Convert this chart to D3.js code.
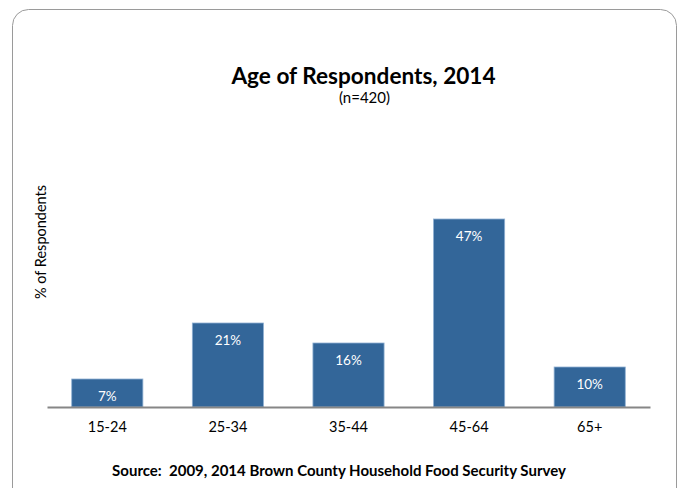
<!DOCTYPE html>
<html><head><meta charset="utf-8">
<script src="https://cdn.jsdelivr.net/npm/d3@7"></script>
<style>body{margin:0;background:#fff}svg{display:block}text{font-family:Lato,"Open Sans",sans-serif}</style>
</head><body><svg id="c" width="684" height="488"></svg>
<script>
const categories = ["15-24","25-34","35-44","45-64","65+"];
const values = [7,21,16,47,10];
const valueLabels = ["7%","21%","16%","47%","10%"];
const title = "Age of Respondents, 2014";
const subtitle = "(n=420)";
const yTitle = "% of Respondents";
const source = "Source:  2009, 2014 Brown County Household Food Security Survey";

const svg = d3.select("#c");
svg.append("rect").attr("x",12.5).attr("y",9.5).attr("width",664).attr("height",500)
  .attr("rx",16).attr("fill","#fff").attr("stroke","#9a9a9a").attr("stroke-width",1);

const x = d3.scaleBand().domain(categories).range([47,650]).paddingInner(0.41).paddingOuter(0.205);
const y = d3.scaleLinear().domain([0,50]).range([407,207]);

svg.selectAll("rect.bar").data(values).join("rect").attr("class","bar")
  .attr("x",(d,i)=>x(categories[i])).attr("y",d=>y(d))
  .attr("width",x.bandwidth()).attr("height",d=>y(0)-y(d))
  .attr("fill","#336699").attr("stroke","#8fb0d2").attr("stroke-width",0.8);

svg.selectAll("text.vl").data(values).join("text").attr("class","vl")
  .attr("x",(d,i)=>x(categories[i])+x.bandwidth()/2).attr("y",d=>y(d)+22)
  .attr("text-anchor","middle").attr("fill","#fff").attr("font-size",13.5)
  .text((d,i)=>valueLabels[i]);

const xa = d3.axisBottom(x).tickSize(0).tickPadding(15);
const g = svg.append("g").attr("transform","translate(0,407)").call(xa);
g.select(".domain").attr("stroke","#868686").attr("stroke-width",2);
g.selectAll("text").attr("font-size",14.5).attr("fill","#000").attr("font-family","Lato,'Open Sans',sans-serif");

svg.append("text").attr("x",363.5).attr("y",84).attr("text-anchor","middle")
  .attr("font-size",22.6).attr("font-weight","bold").text(title);
svg.append("text").attr("x",364.5).attr("y",103).attr("text-anchor","middle")
  .attr("font-size",15).text(subtitle);
svg.append("text").attr("transform","translate(46,242) rotate(-90)").attr("text-anchor","middle")
  .attr("font-size",14.5).text(yTitle);
svg.append("text").attr("x",339).attr("y",476).attr("text-anchor","middle")
  .attr("font-size",15).attr("font-weight","bold").style("white-space","pre").text(source);
</script></body></html>
